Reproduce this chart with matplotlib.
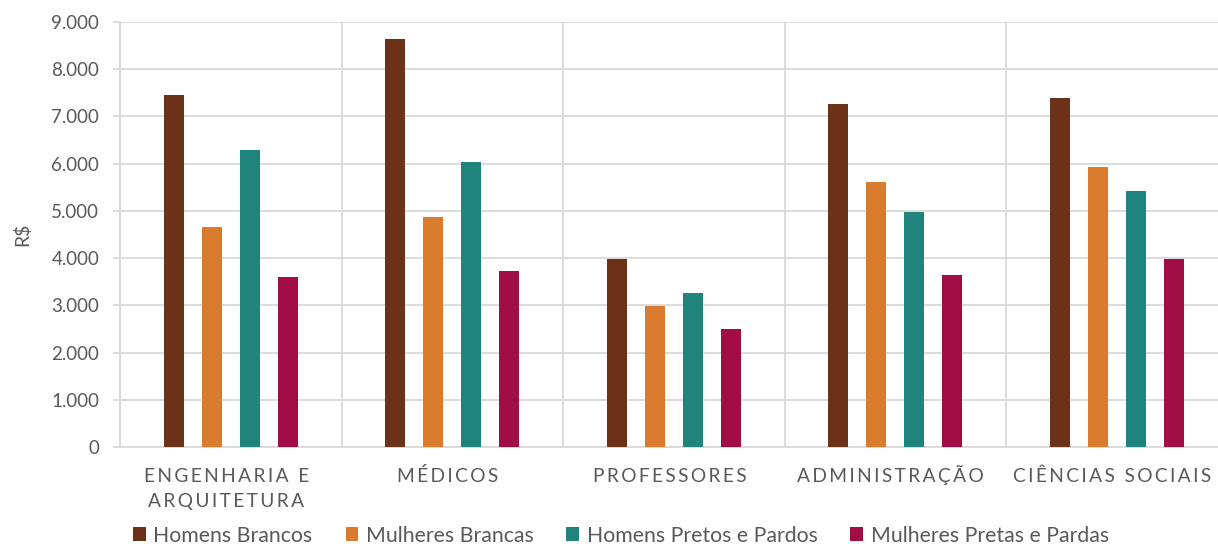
import matplotlib
matplotlib.use("Agg")
import matplotlib.pyplot as plt
import matplotlib.transforms as mtransforms
import numpy as np
from matplotlib.ticker import FuncFormatter, MultipleLocator, FixedLocator

plt.rcParams['font.family'] = ['Lato', 'DejaVu Sans']

categories = ["ENGENHARIA E\nARQUITETURA", "MÉDICOS", "PROFESSORES",
              "ADMINISTRAÇÃO", "CIÊNCIAS SOCIAIS"]
series_names = ["Homens Brancos", "Mulheres Brancas",
                "Homens Pretos e Pardos", "Mulheres Pretas e Pardas"]
homens_brancos = [7450, 8640, 3980, 7260, 7390]
mulheres_brancas = [4660, 4870, 2990, 5610, 5930]
homens_pretos_pardos = [6290, 6030, 3260, 4980, 5420]
mulheres_pretas_pardas = [3600, 3730, 2500, 3650, 3980]

colors = ["#6B3119", "#D97C2E", "#20837C", "#A30D45"]
text_color = "#595959"
grid_color = "#D9D9D9"


def spaced(line):
    # wide letter spacing for the category captions
    words = ["\u2009".join(w) for w in line.split(" ")]
    return "\u2009 \u2009".join(words)


fig = plt.figure(figsize=(12.18, 5.48), dpi=100)
ax = fig.add_axes([120 / 1218, 1 - 447 / 548, (1227.5 - 120) / 1218, (447 - 22) / 548])

x = np.arange(len(categories))
width = 20 / 221.5
step = 38 / 221.5
series = [homens_brancos, mulheres_brancas, homens_pretos_pardos, mulheres_pretas_pardas]
for i, (vals, name, c) in enumerate(zip(series, series_names, colors)):
    ax.bar(x + (i - 1.5) * step, vals, width=width, color=c, label=name, zorder=3)

ax.set_xlim(-0.5, len(categories) - 0.5)
ax.set_ylim(0, 9000)
ax.yaxis.set_major_locator(MultipleLocator(1000))
ax.yaxis.set_major_formatter(FuncFormatter(lambda v, p: f"{int(v):,}".replace(",", ".")))

# category captions: each line placed on its own baseline below the axis
ax.set_xticks(x)
ax.set_xticklabels([])
for xi, cat in zip(x, categories):
    for k, line in enumerate(cat.split("\n")):
        tf = ax.get_xaxis_transform() + mtransforms.ScaledTranslation(
            0, -(35 + 25 * k) / 100, fig.dpi_scale_trans)
        ax.text(xi - 0.02, 0, spaced(line), transform=tf, ha='center', va='baseline',
                fontsize=13.8, color=text_color)

ax.xaxis.set_minor_locator(FixedLocator(np.arange(-0.5, len(categories), 1.0)))
ax.tick_params(axis='x', which='both', length=0)
ax.tick_params(axis='y', which='major', length=5, width=1.3, color=grid_color,
               labelsize=13.5, labelcolor=text_color, pad=10)

ax.grid(axis='y', which='major', color=grid_color, linewidth=1.3, zorder=0)
ax.grid(axis='x', which='minor', color=grid_color, linewidth=1.3, zorder=0)
ax.set_axisbelow(True)

for s in ['top', 'right']:
    ax.spines[s].set_visible(False)
for s in ['left', 'bottom']:
    ax.spines[s].set_color(grid_color)
    ax.spines[s].set_linewidth(1.3)

ax.set_ylabel("R$", fontsize=14, color=text_color, labelpad=14)

fig.legend(loc='center', bbox_to_anchor=(621 / 1218, 1 - 535.5 / 548), ncol=4,
           frameon=False, fontsize=15.3, labelcolor=text_color,
           handlelength=0.6, handleheight=0.6, handletextpad=0.35,
           columnspacing=1.55, borderpad=0.2)

fig.savefig("out.png", dpi=100)
